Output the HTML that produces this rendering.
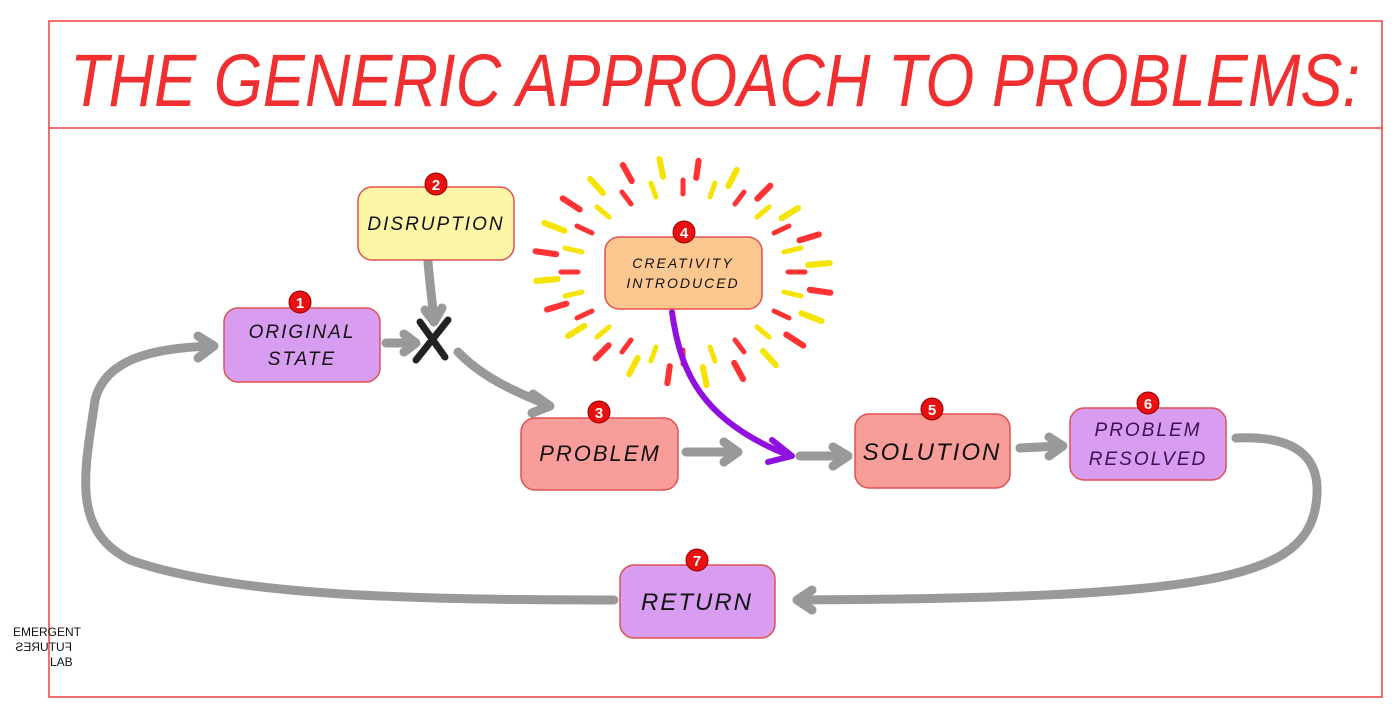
<!DOCTYPE html>
<html><head><meta charset="utf-8"><style>
html,body{margin:0;padding:0;background:#fff;}
svg{display:block}
text{font-family:"Liberation Sans",sans-serif;}
</style></head><body>
<svg width="1400" height="712" viewBox="0 0 1400 712" xmlns="http://www.w3.org/2000/svg">
<defs>
<g id="burst" stroke-width="5" stroke-linecap="round" fill="none">
<line x1="788" y1="272" x2="805" y2="272" stroke="#f33"/>
<line x1="784" y1="292" x2="801" y2="296" stroke="#f5e400"/>
<line x1="774" y1="311" x2="789" y2="318" stroke="#f33"/>
<line x1="757" y1="327" x2="769" y2="337" stroke="#f5e400"/>
<line x1="735" y1="340" x2="744" y2="352" stroke="#f33"/>
<line x1="710" y1="347" x2="715" y2="361" stroke="#f5e400"/>
<line x1="683" y1="350" x2="683" y2="364" stroke="#f33"/>
<line x1="656" y1="347" x2="651" y2="361" stroke="#f5e400"/>
<line x1="631" y1="340" x2="622" y2="352" stroke="#f33"/>
<line x1="609" y1="327" x2="597" y2="337" stroke="#f5e400"/>
<line x1="592" y1="311" x2="577" y2="318" stroke="#f33"/>
<line x1="582" y1="292" x2="565" y2="296" stroke="#f5e400"/>
<line x1="578" y1="272" x2="561" y2="272" stroke="#f33"/>
<line x1="582" y1="252" x2="565" y2="248" stroke="#f5e400"/>
<line x1="592" y1="233" x2="577" y2="226" stroke="#f33"/>
<line x1="609" y1="217" x2="597" y2="207" stroke="#f5e400"/>
<line x1="631" y1="204" x2="622" y2="192" stroke="#f33"/>
<line x1="656" y1="197" x2="651" y2="183" stroke="#f5e400"/>
<line x1="683" y1="194" x2="683" y2="180" stroke="#f33"/>
<line x1="710" y1="197" x2="715" y2="183" stroke="#f5e400"/>
<line x1="735" y1="204" x2="744" y2="192" stroke="#f33"/>
<line x1="757" y1="217" x2="769" y2="207" stroke="#f5e400"/>
<line x1="774" y1="233" x2="789" y2="226" stroke="#f33"/>
<line x1="784" y1="252" x2="801" y2="248" stroke="#f5e400"/>
</g>
</defs>
<!-- frame -->
<rect x="49" y="21" width="1333" height="676" fill="none" stroke="#f04040" stroke-width="1.5"/>
<line x1="49" y1="128" x2="1382" y2="128" stroke="#f04040" stroke-width="1.5"/>
<text x="715" y="106" text-anchor="middle" font-size="74" fill="#f03030" font-style="italic" textLength="1290" lengthAdjust="spacingAndGlyphs">THE GENERIC APPROACH TO PROBLEMS:</text>

<!-- burst -->
<use href="#burst"/>
<use href="#burst" transform="translate(683 272) rotate(8) scale(1.22) translate(-683 -272)"/>

<!-- gray arrows -->
<g fill="none" stroke="#999" stroke-width="9" stroke-linecap="round" stroke-linejoin="round">
<path d="M614 600 C 400 600, 230 595, 130 560 C 70 530, 85 470, 95 400 C 105 360, 150 348, 212 346"/>
<path d="M198 336 L214 346 L198 358"/>
<path d="M386 343 L412 343"/><path d="M404 334 L416 343 L404 352"/>
<path d="M428 262 C 430 285, 432 300, 434 320"/><path d="M425 310 L434 322 L442 308"/>
<path d="M458 352 C 480 375, 510 390, 548 405"/><path d="M533 394 L550 406 L532 413"/>
<path d="M686 452 L735 452"/><path d="M724 442 L738 452 L724 462"/>
<path d="M800 456 L845 456"/><path d="M833 447 L848 456 L833 466"/>
<path d="M1020 448 L1060 446"/><path d="M1049 437 L1063 446 L1049 456"/>
<path d="M1236 438 C 1300 435, 1325 460, 1315 510 C 1300 580, 1200 598, 800 600"/>
<path d="M812 590 L797 600 L812 610"/>
</g>
<!-- purple arrow -->
<path d="M672 312 C 680 370, 700 420, 788 455" fill="none" stroke="#9010e0" stroke-width="6" stroke-linecap="round"/>
<path d="M772 440 L792 456 L768 462" fill="none" stroke="#9010e0" stroke-width="6" stroke-linecap="round" stroke-linejoin="round"/>
<!-- X -->
<g stroke="#222" stroke-width="7" stroke-linecap="round"><line x1="420" y1="322" x2="445" y2="357"/><line x1="448" y1="320" x2="416" y2="360"/></g>

<!-- boxes -->
<g stroke="#e05050" stroke-width="1.5">
<rect x="224" y="308" width="156" height="74" rx="14" fill="#d89cf0"/>
<rect x="358" y="187" width="156" height="73" rx="14" fill="#fdf6a6"/>
<rect x="521" y="418" width="157" height="72" rx="14" fill="#f99d9a"/>
<rect x="605" y="237" width="157" height="72" rx="14" fill="#fcc890"/>
<rect x="855" y="414" width="155" height="74" rx="14" fill="#f99d9a"/>
<rect x="1070" y="408" width="156" height="72" rx="14" fill="#d89cf0"/>
<rect x="620" y="565" width="155" height="73" rx="14" fill="#d89cf0"/>
</g>
<g font-size="19" fill="#111" text-anchor="middle" font-style="italic" letter-spacing="2">
<text x="302" y="338">ORIGINAL</text><text x="302" y="365">STATE</text>
<text x="436" y="230">DISRUPTION</text>
<text x="600" y="461" font-size="22">PROBLEM</text>
<text x="683" y="268" font-size="14">CREATIVITY</text><text x="683" y="288" font-size="14">INTRODUCED</text>
<text x="932" y="460" font-size="24">SOLUTION</text>
<text x="1148" y="436" fill="#401050">PROBLEM</text><text x="1148" y="465" fill="#401050">RESOLVED</text>
<text x="697" y="610" font-size="24">RETURN</text>
</g>
<!-- number badges -->
<g fill="#e81010" stroke="#900" stroke-width="1">
<circle cx="300" cy="302" r="11"/><circle cx="436" cy="184" r="11"/><circle cx="599" cy="412" r="11"/>
<circle cx="684" cy="232" r="11"/><circle cx="932" cy="409" r="11"/><circle cx="1148" cy="403" r="11"/><circle cx="697" cy="560" r="11"/>
</g>
<g fill="#fff" font-size="15" font-weight="bold" text-anchor="middle">
<text x="300" y="308">1</text><text x="436" y="190">2</text><text x="599" y="418">3</text>
<text x="684" y="238">4</text><text x="932" y="415">5</text><text x="1148" y="409">6</text><text x="697" y="566">7</text>
</g>
<!-- logo -->
<g font-size="12" fill="#111">
<text x="13" y="636">EMERGENT</text>
<text x="-72" y="651" transform="scale(-1,1)">FUTURES</text>
<text x="50" y="666">LAB</text>
</g>
</svg>
</body></html>
